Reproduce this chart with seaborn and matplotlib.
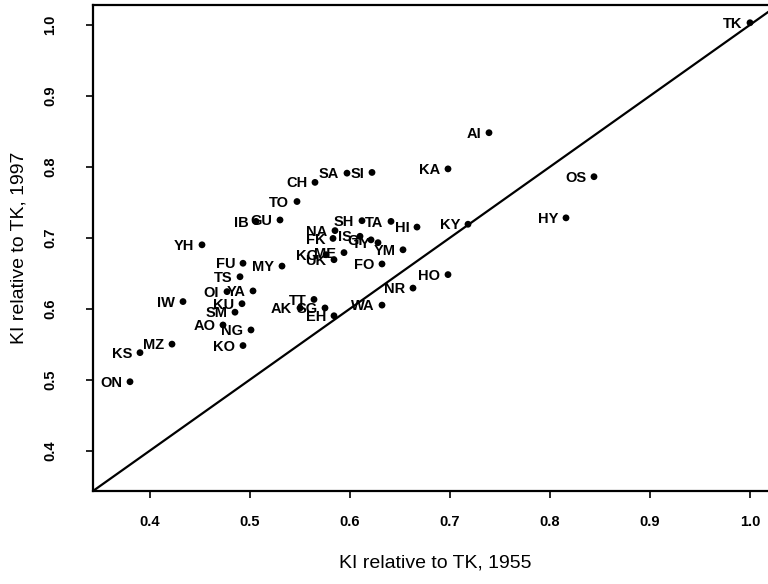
import matplotlib
matplotlib.use("Agg")
import matplotlib.pyplot as plt
import seaborn as sns
import pandas as pd

# ---- data ----
labels = ["TK", "AI", "KA", "OS", "HY", "KY", "HI", "TA", "SH", "YM",
          "HO", "NR", "WA", "FO", "SI", "SA", "CH", "TO", "GU", "IB",
          "NA", "FK", "IS", "GI", "TY", "KG", "ME", "UK", "FU", "MY",
          "YH", "TS", "OI", "YA", "KU", "SM", "AO", "NG", "KO", "IW",
          "MZ", "KS", "ON", "TT", "AK", "SG", "EH"]
ki_1955 = [1.000, 0.739, 0.698, 0.844, 0.816, 0.718, 0.667, 0.641, 0.612, 0.653,
           0.698, 0.663, 0.632, 0.632, 0.622, 0.597, 0.565, 0.547, 0.530, 0.506,
           0.585, 0.583, 0.610, 0.621, 0.628, 0.576, 0.594, 0.584, 0.493, 0.532,
           0.452, 0.490, 0.477, 0.503, 0.492, 0.485, 0.473, 0.501, 0.493, 0.433,
           0.422, 0.390, 0.380, 0.564, 0.550, 0.575, 0.584]
ki_1997 = [1.003, 0.848, 0.797, 0.786, 0.728, 0.719, 0.715, 0.723, 0.724, 0.683,
           0.648, 0.629, 0.605, 0.663, 0.792, 0.791, 0.778, 0.751, 0.725, 0.723,
           0.710, 0.699, 0.702, 0.697, 0.693, 0.676, 0.679, 0.669, 0.664, 0.660,
           0.690, 0.645, 0.624, 0.625, 0.607, 0.595, 0.577, 0.570, 0.548, 0.610,
           0.550, 0.538, 0.497, 0.613, 0.601, 0.601, 0.590]
x_ticks = [0.4, 0.5, 0.6, 0.7, 0.8, 0.9, 1.0]
y_ticks = [0.4, 0.5, 0.6, 0.7, 0.8, 0.9, 1.0]
x_label = "KI relative to TK, 1955"
y_label = "KI relative to TK, 1997"

df = pd.DataFrame({"label": labels, "x": ki_1955, "y": ki_1997})

sns.set_theme(style="white")
plt.rcParams["font.family"] = ["Liberation Sans", "DejaVu Sans"]

fig = plt.figure(figsize=(7.68, 5.84), dpi=100)
W, H = 768, 584
# axes box extends past the right edge, as in the cropped reference
ax = fig.add_axes([93 / W, 93 / H, 685 / W, 486 / H])

sns.scatterplot(data=df, x="x", y="y", color="black", s=24,
                edgecolor="none", linewidth=0, ax=ax, zorder=3)

ax.axline((0.5, 0.5), slope=1, color="black", lw=1.6, zorder=2)

for lab, xv, yv in zip(df["label"], df["x"], df["y"]):
    ax.annotate(lab, (xv, yv), xytext=(-5.5, -0.8), textcoords="offset points",
                ha="right", va="center", fontsize=10.5, fontweight="bold",
                color="black", zorder=4)

ax.set_xlim(0.343, 1.028)
ax.set_ylim(0.343, 1.028)
ax.set_xticks(x_ticks)
ax.set_yticks(y_ticks)
ax.set_xticklabels([f"{v:.1f}" for v in x_ticks], fontsize=10.5, fontweight="bold")
ax.set_yticklabels([f"{v:.1f}" for v in y_ticks], fontsize=10.5, fontweight="bold",
                   rotation=90, va="center")
ax.tick_params(axis="both", direction="out", length=5, width=1.2,
               color="black", labelcolor="black")
ax.tick_params(axis="x", pad=12, bottom=True)
ax.tick_params(axis="y", pad=21, left=True)

ax.set_xlabel(x_label, fontsize=14, labelpad=19, color="black")
ax.set_ylabel(y_label, fontsize=14, labelpad=11, color="black")

for side in ["left", "bottom", "top"]:
    ax.spines[side].set_visible(True)
    ax.spines[side].set_color("black")
    ax.spines[side].set_linewidth(1.6)
ax.spines["right"].set_visible(False)
ax.grid(False)

fig.savefig("out.png", dpi=100)
